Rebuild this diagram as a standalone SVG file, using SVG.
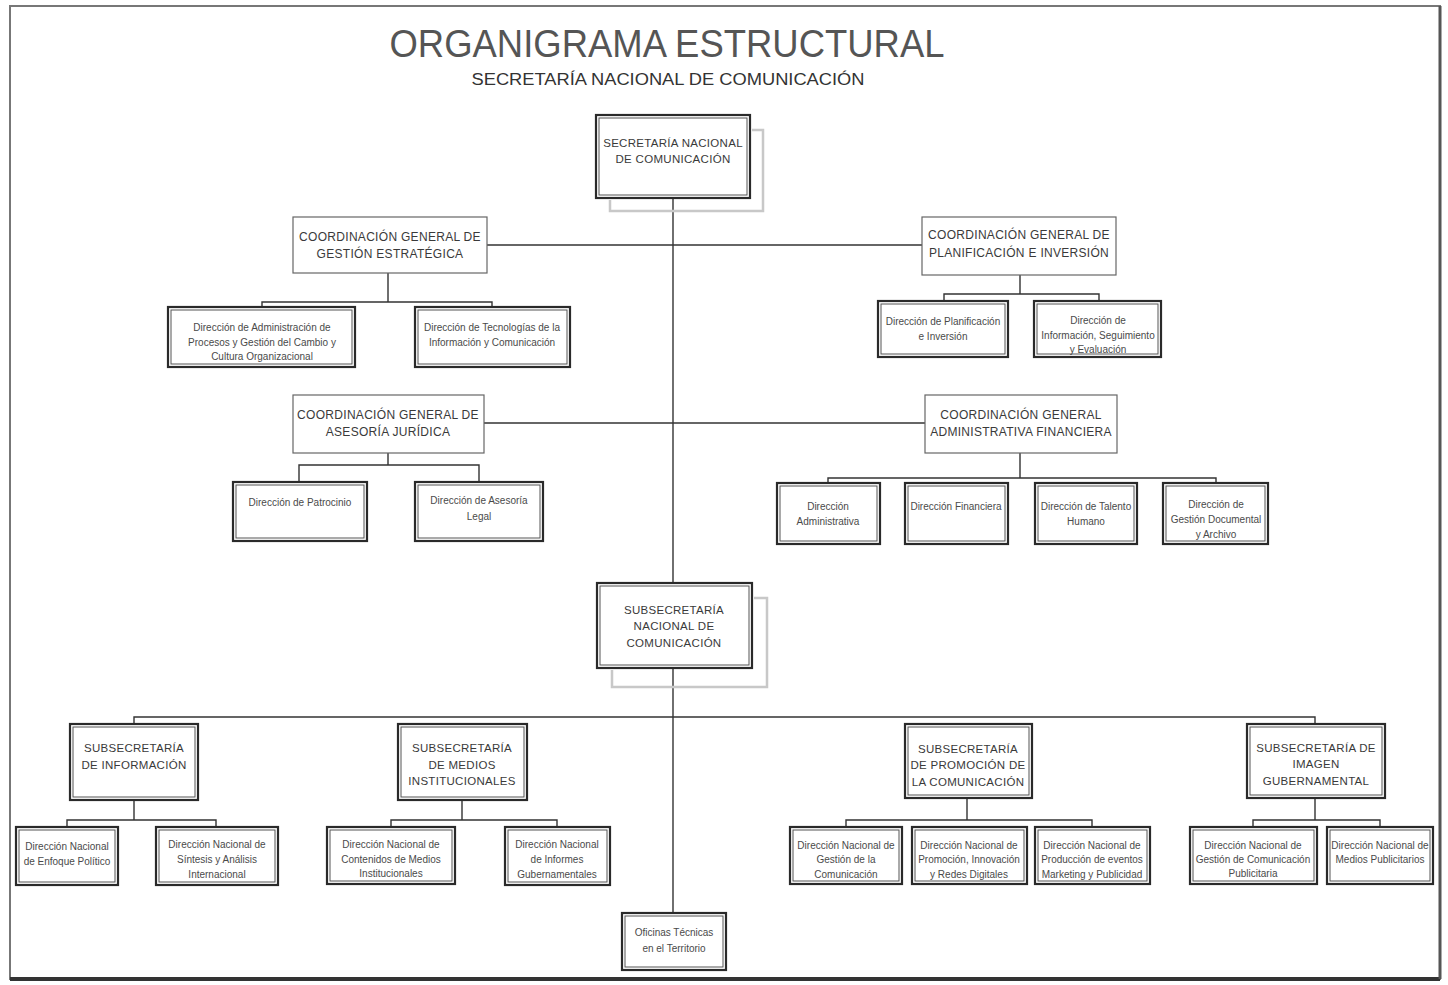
<svg xmlns="http://www.w3.org/2000/svg" width="1448" height="985" viewBox="0 0 1448 985">
<style>
text{font-family:"Liberation Sans","Arial",sans-serif;text-anchor:middle}
.t{font-size:10px;fill:#4a4a4a}
.c{font-size:12px;fill:#3a3a3a;letter-spacing:0.3px}
.s{font-size:11.5px;fill:#3a3a3a;letter-spacing:0.3px}
.ob{fill:#fff;stroke:#2a2a2a;stroke-width:2.2}
.ib{fill:none;stroke:#555;stroke-width:1}
.cb{fill:#fff;stroke:#666;stroke-width:1.2}
.sh{fill:none;stroke:#c8c8c8;stroke-width:2.5}
.ln{fill:none;stroke:#333;stroke-width:1.4}
</style>
<rect x="0" y="0" width="1448" height="985" fill="#fff"/>
<rect x="10" y="6" width="1430" height="973" fill="none" stroke="#777" stroke-width="2"/>
<line x1="10" y1="979" x2="1440" y2="979" stroke="#333" stroke-width="4"/>
<line x1="1440" y1="6" x2="1440" y2="979" stroke="#555" stroke-width="3"/>
<text x="667" y="57" font-size="38" fill="#555" textLength="555" lengthAdjust="spacingAndGlyphs">ORGANIGRAMA ESTRUCTURAL</text>
<text x="668" y="85" font-size="16" fill="#333" textLength="393" lengthAdjust="spacingAndGlyphs">SECRETARÍA NACIONAL DE COMUNICACIÓN</text>

<g id="connectors">
<path class="ln" d="M673 198V913"/>
<path class="ln" d="M487 245H922"/>
<path class="ln" d="M484 423H925"/>
<path class="ln" d="M388 273V302M262 307V302H492V307"/>
<path class="ln" d="M1020 275V294M944 301V294H1099V301"/>
<path class="ln" d="M388 453V465M299 482V465H479V482"/>
<path class="ln" d="M1020 453V478M828 483V478H1216V483"/>
<path class="ln" d="M134 724V717H1315V724"/>
<path class="ln" d="M134 800V820M67 827V820H216V827"/>
<path class="ln" d="M462 800V820M391 827V820H557V827"/>
<path class="ln" d="M967 798V820M846 827V820H1092V827"/>
<path class="ln" d="M1315 798V820M1253 827V820H1380V827"/>
</g>

<g id="n-secretaria">
<path class="sh" d="M752 130H763V211H610V200"/>
<rect class="ob" x="596" y="115" width="154" height="83"/>
<rect class="ib" x="599" y="118" width="148" height="77"/>
<text class="s" x="673" y="147">SECRETARÍA NACIONAL</text>
<text class="s" x="673" y="163">DE COMUNICACIÓN</text>
</g>

<g id="n-cg-gestion">
<rect class="cb" x="293" y="217" width="194" height="56"/>
<text class="c" x="390" y="241">COORDINACIÓN GENERAL DE</text>
<text class="c" x="390" y="258">GESTIÓN ESTRATÉGICA</text>
</g>
<g id="n-cg-planif">
<rect class="cb" x="922" y="217" width="194" height="58"/>
<text class="c" x="1019" y="239">COORDINACIÓN GENERAL DE</text>
<text class="c" x="1019" y="257">PLANIFICACIÓN E INVERSIÓN</text>
</g>

<g id="n-d-procesos">
<rect class="ob" x="168" y="307" width="187" height="60"/>
<rect class="ib" x="171" y="310" width="181" height="54"/>
<text class="t" x="262" y="331">Dirección de Administración de</text>
<text class="t" x="262" y="346">Procesos y Gestión del Cambio y</text>
<text class="t" x="262" y="360">Cultura Organizacional</text>
</g>
<g id="n-d-tecnologias">
<rect class="ob" x="415" y="307" width="155" height="60"/>
<rect class="ib" x="418" y="310" width="149" height="54"/>
<text class="t" x="492" y="331">Dirección de Tecnologías de la</text>
<text class="t" x="492" y="346">Información y Comunicación</text>
</g>
<g id="n-d-planif">
<rect class="ob" x="878" y="301" width="130" height="56"/>
<rect class="ib" x="881" y="304" width="124" height="50"/>
<text class="t" x="943" y="325">Dirección de Planificación</text>
<text class="t" x="943" y="340">e Inversión</text>
</g>
<g id="n-d-seguimiento">
<rect class="ob" x="1034" y="301" width="127" height="56"/>
<rect class="ib" x="1037" y="304" width="121" height="50"/>
<text class="t" x="1098" y="324">Dirección de</text>
<text class="t" x="1098" y="339">Información, Seguimiento</text>
<text class="t" x="1098" y="353">y Evaluación</text>
</g>

<g id="n-cg-juridica">
<rect class="cb" x="293" y="395" width="191" height="58"/>
<text class="c" x="388" y="419">COORDINACIÓN GENERAL DE</text>
<text class="c" x="388" y="436">ASESORÍA JURÍDICA</text>
</g>
<g id="n-cg-adminfin">
<rect class="cb" x="925" y="395" width="192" height="58"/>
<text class="c" x="1021" y="419">COORDINACIÓN GENERAL</text>
<text class="c" x="1021" y="436">ADMINISTRATIVA FINANCIERA</text>
</g>

<g id="n-d-patrocinio">
<rect class="ob" x="233" y="482" width="134" height="59"/>
<rect class="ib" x="236" y="485" width="128" height="53"/>
<text class="t" x="300" y="506">Dirección de Patrocinio</text>
</g>
<g id="n-d-asesoria">
<rect class="ob" x="415" y="482" width="128" height="59"/>
<rect class="ib" x="418" y="485" width="122" height="53"/>
<text class="t" x="479" y="504">Dirección de Asesoría</text>
<text class="t" x="479" y="520">Legal</text>
</g>
<g id="n-d-administrativa">
<rect class="ob" x="777" y="483" width="103" height="61"/>
<rect class="ib" x="780" y="486" width="97" height="55"/>
<text class="t" x="828" y="510">Dirección</text>
<text class="t" x="828" y="525">Administrativa</text>
</g>
<g id="n-d-financiera">
<rect class="ob" x="905" y="483" width="103" height="61"/>
<rect class="ib" x="908" y="486" width="97" height="55"/>
<text class="t" x="956" y="510">Dirección Financiera</text>
</g>
<g id="n-d-talento">
<rect class="ob" x="1035" y="483" width="102" height="61"/>
<rect class="ib" x="1038" y="486" width="96" height="55"/>
<text class="t" x="1086" y="510">Dirección de Talento</text>
<text class="t" x="1086" y="525">Humano</text>
</g>
<g id="n-d-documental">
<rect class="ob" x="1163" y="483" width="105" height="61"/>
<rect class="ib" x="1166" y="486" width="99" height="55"/>
<text class="t" x="1216" y="508">Dirección de</text>
<text class="t" x="1216" y="523">Gestión Documental</text>
<text class="t" x="1216" y="538">y Archivo</text>
</g>

<g id="n-subsecretaria">
<path class="sh" d="M754 598H767V687H612V670"/>
<rect class="ob" x="597" y="583" width="155" height="85"/>
<rect class="ib" x="600" y="586" width="149" height="79"/>
<text class="s" x="674" y="614">SUBSECRETARÍA</text>
<text class="s" x="674" y="630">NACIONAL DE</text>
<text class="s" x="674" y="647">COMUNICACIÓN</text>
</g>

<g id="n-s-informacion">
<rect class="ob" x="70" y="724" width="128" height="76"/>
<rect class="ib" x="73" y="727" width="122" height="70"/>
<text class="s" x="134" y="752">SUBSECRETARÍA</text>
<text class="s" x="134" y="769">DE INFORMACIÓN</text>
</g>
<g id="n-s-medios">
<rect class="ob" x="398" y="724" width="129" height="76"/>
<rect class="ib" x="401" y="727" width="123" height="70"/>
<text class="s" x="462" y="752">SUBSECRETARÍA</text>
<text class="s" x="462" y="769">DE MEDIOS</text>
<text class="s" x="462" y="785">INSTITUCIONALES</text>
</g>
<g id="n-s-promocion">
<rect class="ob" x="905" y="724" width="127" height="74"/>
<rect class="ib" x="908" y="727" width="121" height="68"/>
<text class="s" x="968" y="753">SUBSECRETARÍA</text>
<text class="s" x="968" y="769">DE PROMOCIÓN DE</text>
<text class="s" x="968" y="786">LA COMUNICACIÓN</text>
</g>
<g id="n-s-imagen">
<rect class="ob" x="1247" y="724" width="138" height="74"/>
<rect class="ib" x="1250" y="727" width="132" height="68"/>
<text class="s" x="1316" y="752">SUBSECRETARÍA DE</text>
<text class="s" x="1316" y="768">IMAGEN</text>
<text class="s" x="1316" y="785">GUBERNAMENTAL</text>
</g>

<g id="n-dn-enfoque">
<rect class="ob" x="16" y="827" width="102" height="58"/>
<rect class="ib" x="19" y="830" width="96" height="52"/>
<text class="t" x="67" y="850">Dirección Nacional</text>
<text class="t" x="67" y="865">de Enfoque Político</text>
</g>
<g id="n-dn-sintesis">
<rect class="ob" x="156" y="827" width="122" height="58"/>
<rect class="ib" x="159" y="830" width="116" height="52"/>
<text class="t" x="217" y="848">Dirección Nacional de</text>
<text class="t" x="217" y="863">Síntesis y Análisis</text>
<text class="t" x="217" y="878">Internacional</text>
</g>
<g id="n-dn-contenidos">
<rect class="ob" x="327" y="827" width="128" height="57"/>
<rect class="ib" x="330" y="830" width="122" height="51"/>
<text class="t" x="391" y="848">Dirección Nacional de</text>
<text class="t" x="391" y="863">Contenidos de Medios</text>
<text class="t" x="391" y="877">Institucionales</text>
</g>
<g id="n-dn-informes">
<rect class="ob" x="505" y="827" width="105" height="58"/>
<rect class="ib" x="508" y="830" width="99" height="52"/>
<text class="t" x="557" y="848">Dirección Nacional</text>
<text class="t" x="557" y="863">de Informes</text>
<text class="t" x="557" y="878">Gubernamentales</text>
</g>
<g id="n-dn-gestioncom">
<rect class="ob" x="790" y="827" width="112" height="57"/>
<rect class="ib" x="793" y="830" width="106" height="51"/>
<text class="t" x="846" y="849">Dirección Nacional de</text>
<text class="t" x="846" y="863">Gestión de la</text>
<text class="t" x="846" y="878">Comunicación</text>
</g>
<g id="n-dn-redes">
<rect class="ob" x="912" y="827" width="115" height="57"/>
<rect class="ib" x="915" y="830" width="109" height="51"/>
<text class="t" x="969" y="849">Dirección Nacional de</text>
<text class="t" x="969" y="863">Promoción, Innovación</text>
<text class="t" x="969" y="878">y Redes Digitales</text>
</g>
<g id="n-dn-eventos">
<rect class="ob" x="1035" y="827" width="115" height="57"/>
<rect class="ib" x="1038" y="830" width="109" height="51"/>
<text class="t" x="1092" y="849">Dirección Nacional de</text>
<text class="t" x="1092" y="863">Producción de eventos</text>
<text class="t" x="1092" y="878">Marketing y Publicidad</text>
</g>
<g id="n-dn-publicitaria">
<rect class="ob" x="1190" y="827" width="127" height="57"/>
<rect class="ib" x="1193" y="830" width="121" height="51"/>
<text class="t" x="1253" y="849">Dirección Nacional de</text>
<text class="t" x="1253" y="863">Gestión de Comunicación</text>
<text class="t" x="1253" y="877">Publicitaria</text>
</g>
<g id="n-dn-mediospub">
<rect class="ob" x="1327" y="827" width="106" height="57"/>
<rect class="ib" x="1330" y="830" width="100" height="51"/>
<text class="t" x="1380" y="849">Dirección Nacional de</text>
<text class="t" x="1380" y="863">Medios Publicitarios</text>
</g>

<g id="n-oficinas">
<rect class="ob" x="622" y="913" width="104" height="57"/>
<rect class="ib" x="625" y="916" width="98" height="51"/>
<text class="t" x="674" y="936">Oficinas Técnicas</text>
<text class="t" x="674" y="952">en el Territorio</text>
</g>
</svg>
